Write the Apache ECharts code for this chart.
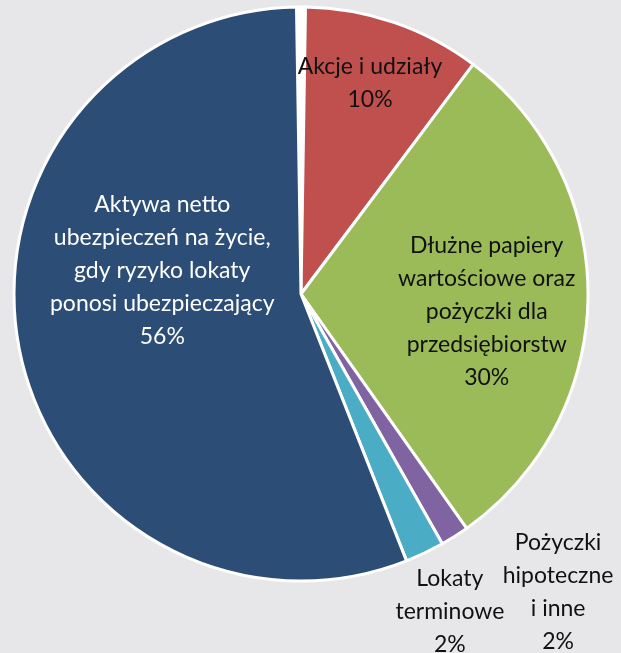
<!DOCTYPE html>
<html>
<head>
<meta charset="utf-8">
<script src="https://cdn.jsdelivr.net/npm/echarts@6/dist/echarts.min.js"></script>
<style>
  html, body { margin: 0; padding: 0; background: #e7e7e9; }
  #main { width: 621px; height: 653px; }
</style>
</head>
<body>
<div id="main"></div>
<script>
// slices, clockwise from the top
var sliceNames = [
    '',
    'Akcje i udziały',
    'Dłużne papiery\nwartościowe oraz\npożyczki dla\nprzedsiębiorstw',
    'Pożyczki\nhipoteczne\ni inne',
    'Lokaty\nterminowe',
    'Aktywa netto\nubezpieczeń na życie,\ngdy ryzyko lokaty\nponosi ubezpieczający'
];
var sliceValues = [0.5, 10, 30, 1.6, 2.2, 55.8];
var sliceColors = ['#ffffff', '#c0504d', '#9bbb59', '#8064a2', '#4bacc6', '#2c4d75'];
var labelColors = ['#000000', '#111111', '#111111', '#111111', '#111111', '#ffffff'];
// label placement: angle (deg clockwise from top) and distance as fraction of radius
var labelAngle = [0, 18.1, 95.5, 139.2, 154.9, 279.4];
var labelDist = [0, 0.774, 0.65, 1.371, 1.223, 0.49];

var cx = 301, cy = 294, radius = 287;

var pieData = [];
for (var i = 0; i < sliceValues.length; i++) {
    pieData.push({
        name: sliceNames[i],
        value: sliceValues[i],
        itemStyle: { color: sliceColors[i] },
        label: { show: i > 0, color: labelColors[i] }
    });
}

var myChart = echarts.init(document.getElementById('main'));
var option = {
    backgroundColor: '#e7e7e9',
    animation: false,
    series: [{
        type: 'pie',
        center: [cx, cy],
        radius: [0, radius],
        startAngle: 90 + sliceValues[0] * 3.6 / 2,
        clockwise: true,
        avoidLabelOverlap: false,
        itemStyle: { borderColor: '#ffffff', borderWidth: 3 },
        label: {
            position: 'inside',
            formatter: function (p) {
                return p.name + '\n' + Math.round(p.percent) + '%';
            },
            fontFamily: 'Lato',
            fontSize: 23,
            lineHeight: 33,
            align: 'center',
            verticalAlign: 'middle'
        },
        labelLine: { show: false },
        labelLayout: function (params) {
            var k = params.dataIndex;
            var a = labelAngle[k] * Math.PI / 180;
            var d = labelDist[k] * radius;
            return {
                x: cx + d * Math.sin(a),
                y: cy - d * Math.cos(a),
                align: 'center',
                verticalAlign: 'middle'
            };
        },
        data: pieData
    }]
};
myChart.setOption(option);
</script>
</body>
</html>
